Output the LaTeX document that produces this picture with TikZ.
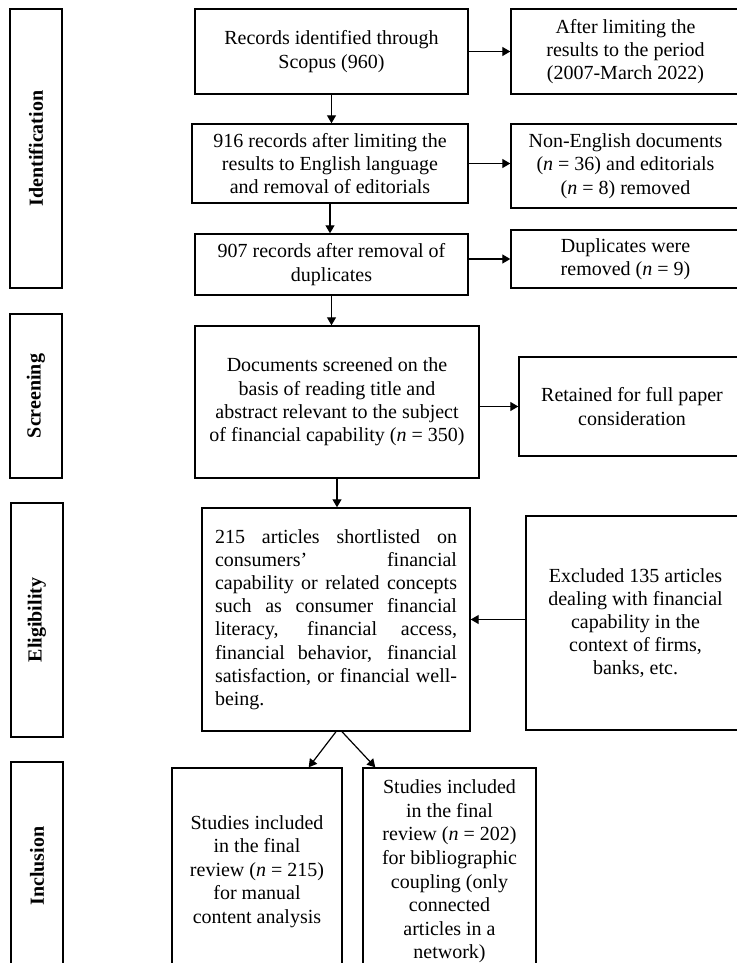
\documentclass[tikz,border=0pt]{standalone}
\usepackage{fontspec}
\setmainfont{Liberation Serif}
\usetikzlibrary{arrows.meta,calc}
\newcommand{\jline}[1]{\makebox[121pt][s]{#1}}

\begin{document}
\begin{tikzpicture}[x=0.5pt,y=-0.5pt,
		box/.style={draw,line width=0.7pt,inner sep=0pt,align=center,font=\fontsize{10}{11.6}\selectfont},
		stage/.style={draw,line width=0.7pt,inner sep=0pt,rotate=90,minimum height=26pt,font=\bfseries\fontsize{10}{12}\selectfont},
		flow/.style={line width=0.6pt,-{Triangle[length=4pt,width=4.5pt]}}]
		\useasboundingbox (0,0) rectangle (737,963);
		% stages
		\node[stage,minimum width=139.5pt] (ident) at (36,148.5) {Identification};
		\node[stage,minimum width=82pt] (screen) at (36,396) {Screening};
		\node[stage,minimum width=117pt] (elig) at (37,620) {Eligibility};
		\node[stage,minimum width=104pt] (incl) at (37,866) {Inclusion};
		% main column
		\node[box,minimum width=136.5pt,minimum height=42.5pt] (b1) at (331.5,51.5) {Records identified through\\Scopus (960)};
		\node[box,minimum width=138pt,minimum height=39.5pt] (b2) at (330,163.5) {916 records after limiting the\\results to English language\\and removal of editorials};
		\node[box,minimum width=136.5pt,minimum height=30.5pt] (b3) at (331.5,264.5) {907 records after removal of\\duplicates};
		\node[box,minimum width=142pt,minimum height=76pt] (b4) at (337,402) {Documents screened on the\\basis of reading title and\\abstract relevant to the subject\\of financial capability (\textit{n} = 350)};
		\node[box,minimum width=134pt,minimum height=111.5pt] (b5) at (336,619.5) {\jline{215 articles shortlisted on}\\\jline{consumers’ financial}\\\jline{capability or related concepts}\\\jline{such as consumer financial}\\\jline{literacy, financial access,}\\\jline{financial behavior, financial}\\\jline{satisfaction, or financial well-}\\\makebox[121pt][l]{being.}};
		\node[box,minimum width=85pt,minimum height=103.5pt,font=\fontsize{10}{11.8}\selectfont] (b6) at (257,871.5) {Studies included\\in the final\\review (\textit{n} = 215)\\for manual\\content analysis};
		\node[box,minimum width=86.5pt,minimum height=103.5pt,font=\fontsize{10}{11.8}\selectfont] (b7) at (449.5,871.5) {Studies included\\in the final\\review (\textit{n} = 202)\\for bibliographic\\coupling (only\\connected\\articles in a\\network)};
		% side column
		\node[box,minimum width=114.5pt,minimum height=42.5pt] (r1) at (625.5,51.5) {After limiting the\\results to the period\\(2007-March 2022)};
		\node[box,minimum width=114.5pt,minimum height=42pt] (r2) at (625.5,166) {Non-English documents\\(\textit{n} = 36) and editorials\\(\textit{n} = 8) removed};
		\node[box,minimum width=114.5pt,minimum height=29pt] (r3) at (625.5,259) {Duplicates were\\removed (\textit{n} = 9)};
		\node[box,minimum width=113pt,minimum height=49.5pt] (r4) at (632,406.5) {Retained for full paper\\consideration};
		\node[box,minimum width=109.5pt,minimum height=107pt] (r5) at (635.5,623) {Excluded 135 articles\\dealing with financial\\capability in the\\context of firms,\\banks, etc.};
		% arrows
		\draw[flow] (b1.south) -- (b1.south |- b2.north);
		\draw[flow] (b2.south) -- (b2.south |- b3.north);
		\draw[flow] (b3.south) -- (b3.south |- b4.north);
		\draw[flow] (b4.south) -- (b4.south |- b5.north);
		\draw[flow] (b1.east) -- (b1.east -| r1.west);
		\draw[flow] (b2.east) -- (b2.east -| r2.west);
		\draw[flow] (r3.west -| b3.east) -- (r3.west);
		\draw[flow] (r4.west -| b4.east) -- (r4.west);
		\draw[flow] (b5.east -| r5.west) -- (b5.east);
		\draw[flow] (b5.south) -- ($(b6.north east)+(-34,0)$);
		\draw[flow] ($(b5.south)+(6,0)$) -- ($(b7.north west)+(13,0)$);
	\end{tikzpicture}
\end{document}
